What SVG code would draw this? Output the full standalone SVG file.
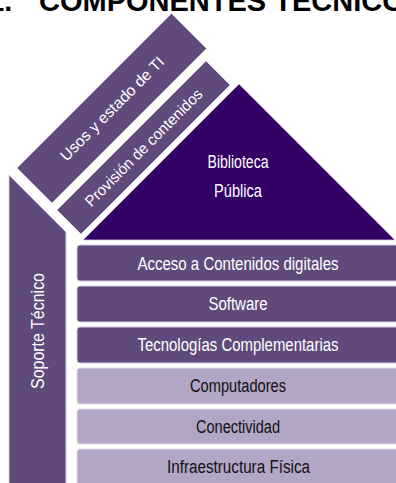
<svg xmlns="http://www.w3.org/2000/svg" width="396" height="483" viewBox="0 0 396 483">
  <style>
    .title { font-family: "Liberation Sans", Arial, sans-serif; font-weight: bold; font-size: 29px; fill: #000000; }
    .band { fill: #604a7b; stroke: #d4cbe0; stroke-width: 1; }
    .light { fill: #b3a5c6; stroke: #e2dbea; stroke-width: 1; }
    .roof { fill: #330066; stroke: #d4cbe0; stroke-width: 0.8; }
    .lbl { font-family: "Liberation Sans Narrow", "Liberation Sans", Arial, sans-serif; font-size: 18px; text-anchor: middle; }
    .lbl-w { fill: #ffffff; }
    .lbl-d { fill: #111111; }
    .tilt { font-family: "Liberation Sans", Arial, sans-serif; font-size: 15.5px; fill: #ffffff; text-anchor: middle; }
  </style>

  <rect width="396" height="483" fill="#ffffff"/>

  <!-- heading, clipped by the top edge -->
  <text class="title" x="-12" y="11">1.<tspan x="39">COMPONENTES TÉCNICOS</tspan></text>

  <!-- roof -->
  <g id="biblioteca">
    <polygon class="roof" points="239,84 395,240 83,240"/>
    <text class="lbl lbl-w" x="238" y="168" font-size="17.5" textLength="61" lengthAdjust="spacingAndGlyphs">Biblioteca</text>
    <text class="lbl lbl-w" x="238" y="197" font-size="17.5" textLength="48" lengthAdjust="spacingAndGlyphs">Pública</text>
  </g>

  <!-- slanted bands -->
  <g id="usos">
    <polygon class="band" points="17,168 171.5,13.5 206.5,48.5 52,203"/>
    <text class="tilt" transform="translate(112,108.5) rotate(-45)" y="5.5" textLength="140" lengthAdjust="spacingAndGlyphs">Usos y estado de TI</text>
  </g>
  <g id="provision">
    <polygon class="band" points="57,210 206,61 230,85 81,234"/>
    <text class="tilt" transform="translate(143.5,147.5) rotate(-45)" y="5.5" textLength="159" lengthAdjust="spacingAndGlyphs">Provisión de contenidos</text>
  </g>

  <!-- side column -->
  <g id="soporte">
    <polygon class="band" points="9,175 66,232 66,490 9,490"/>
    <text class="lbl lbl-w" transform="translate(37.5,331) rotate(-90)" y="6" textLength="116" lengthAdjust="spacingAndGlyphs">Soporte Técnico</text>
  </g>

  <!-- stacked layers -->
  <g id="acceso">
    <rect class="band" x="77" y="245" width="322" height="36" rx="3"/>
    <text class="lbl lbl-w" x="238" y="269.5" textLength="201" lengthAdjust="spacingAndGlyphs">Acceso a Contenidos digitales</text>
  </g>
  <g id="software">
    <rect class="band" x="77" y="286" width="322" height="36" rx="3"/>
    <text class="lbl lbl-w" x="238" y="310" textLength="59" lengthAdjust="spacingAndGlyphs">Software</text>
  </g>
  <g id="tecnologias">
    <rect class="band" x="77" y="327" width="322" height="36" rx="3"/>
    <text class="lbl lbl-w" x="238" y="351" textLength="201" lengthAdjust="spacingAndGlyphs">Tecnologías Complementarias</text>
  </g>
  <g id="computadores">
    <rect class="light" x="77" y="368" width="322" height="36" rx="3"/>
    <text class="lbl lbl-d" x="238" y="392" textLength="96" lengthAdjust="spacingAndGlyphs">Computadores</text>
  </g>
  <g id="conectividad">
    <rect class="light" x="77" y="409" width="322" height="35" rx="3"/>
    <text class="lbl lbl-d" x="238" y="432.5" textLength="84" lengthAdjust="spacingAndGlyphs">Conectividad</text>
  </g>
  <g id="infraestructura">
    <rect class="light" x="77" y="449" width="322" height="40" rx="3"/>
    <text class="lbl lbl-d" x="238.5" y="473" textLength="143" lengthAdjust="spacingAndGlyphs">Infraestructura Física</text>
  </g>

  <g id="connectors"/>
</svg>
